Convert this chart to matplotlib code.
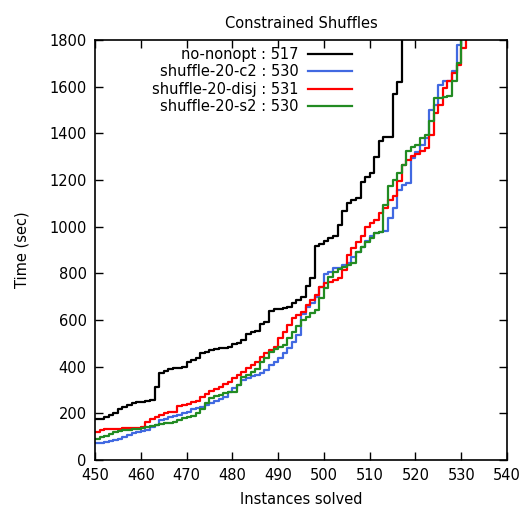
import numpy as np
import matplotlib
matplotlib.use("Agg")
import matplotlib.pyplot as plt

# cactus data: time (sec) of the k-th solved instance, starting at instance 450
first_instance = 450

no_nonopt = [174, 174, 183, 193, 203, 219, 229, 236, 246, 248,
             250, 252, 258, 314, 371, 383, 389, 393, 396, 398,
             419, 430, 436, 457, 462, 471, 474, 478, 482, 486,
             497, 503, 514, 540, 547, 552, 581, 593, 638, 647,
             648, 650, 657, 674, 686, 700, 746, 781, 917, 925,
             940, 950, 961, 1007, 1069, 1100, 1114, 1121, 1193, 1214,
             1231, 1300, 1366, 1383, 1383, 1569, 1619, 1900]

shuffle_c2 = [71, 74, 76, 81, 85, 89, 100, 107, 114, 121,
              125, 129, 140, 150, 171, 174, 183, 190, 195, 200,
              207, 219, 225, 229, 236, 245, 255, 262, 271, 290,
              307, 321, 343, 350, 360, 365, 371, 386, 407, 420,
              436, 460, 479, 507, 536, 625, 655, 674, 700, 743,
              797, 807, 821, 824, 835, 843, 869, 893, 914, 940,
              960, 971, 979, 980, 1037, 1079, 1159, 1180, 1186, 1294,
              1320, 1351, 1380, 1501, 1523, 1609, 1626, 1626, 1666, 1780,
              1900]

shuffle_disj = [121, 129, 131, 134, 134, 135, 137, 139, 139, 139,
                140, 164, 174, 183, 193, 200, 204, 207, 231, 236,
                240, 247, 254, 271, 283, 295, 305, 314, 326, 336,
                350, 365, 379, 393, 407, 420, 440, 460, 471, 486,
                521, 550, 579, 607, 620, 636, 664, 686, 707, 743,
                757, 765, 771, 780, 814, 879, 907, 936, 960, 1000,
                1015, 1029, 1057, 1080, 1114, 1130, 1194, 1266, 1287, 1301,
                1310, 1323, 1337, 1394, 1487, 1523, 1594, 1623, 1659, 1694,
                1766, 1900]

shuffle_s2 = [89, 97, 105, 113, 121, 124, 127, 129, 132, 134,
              136, 140, 146, 150, 154, 158, 160, 164, 171, 179,
              185, 189, 200, 217, 243, 264, 274, 280, 286, 290,
              293, 320, 357, 364, 379, 390, 421, 436, 464, 475,
              485, 493, 521, 550, 575, 600, 614, 629, 643, 693,
              736, 786, 807, 817, 829, 835, 843, 893, 914, 936,
              950, 971, 979, 1094, 1173, 1201, 1230, 1266, 1323, 1340,
              1351, 1380, 1394, 1451, 1551, 1551, 1555, 1559, 1623, 1701,
              1900]

series = [
    ("no-nonopt : 517", no_nonopt, "black"),
    ("shuffle-20-c2 : 530", shuffle_c2, "#4169e1"),
    ("shuffle-20-disj : 531", shuffle_disj, "#ff0000"),
    ("shuffle-20-s2 : 530", shuffle_s2, "#228b22"),
]

plt.rcParams["font.family"] = ["DejaVu Sans"]
plt.rcParams["font.size"] = 10.5

fig = plt.figure(figsize=(5.25, 5.15), dpi=100)
ax = fig.add_axes([95 / 525, 55 / 515, 412 / 525, 420 / 515])

for label, times, color in series:
    x = np.arange(first_instance, first_instance + len(times))
    ax.plot(x, times, drawstyle="steps-post", color=color, lw=1.6, label=label)

ax.set_xlim(450, 540)
ax.set_ylim(0, 1800)
ax.set_xticks(np.arange(450, 541, 10))
ax.set_yticks(np.arange(0, 1801, 200))
ax.tick_params(direction="in", length=6, width=1, top=True, right=True, pad=6)
for s in ax.spines.values():
    s.set_linewidth(1.2)

ax.set_title("Constrained Shuffles", fontsize=10.5, pad=9)
ax.set_xlabel("Instances solved", labelpad=6)
ax.set_ylabel("Time (sec)", labelpad=14)

ax.legend(loc="upper left", bbox_to_anchor=(0.113, 1.007), frameon=False,
          markerfirst=False, handlelength=3.0, handletextpad=0.7,
          labelspacing=0.15, borderaxespad=0.3)

fig.savefig("out.png", dpi=100)
